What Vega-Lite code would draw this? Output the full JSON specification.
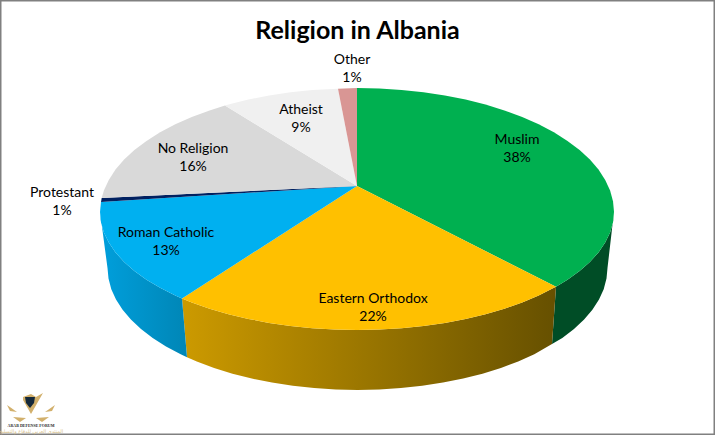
{
"$schema":"https://vega.github.io/schema/vega-lite/v6.json",
"width":715,"height":435,"padding":0,"autosize":{"type":"none"},
"background":"white",
"config":{"view":{"stroke":"#808080","strokeWidth":3},"font":"Lato"},
"title":{"text":"Religion in Albania","font":"Lato","fontSize":25,"fontWeight":"bold","color":"#000000","anchor":"middle","baseline":"middle","dy":56,"offset":0},
"datasets":{
"sides":[
{"part":"Muslim","i":1,"x":613.5,"y":216},{"part":"Muslim","i":2,"x":613,"y":222.3},{"part":"Muslim","i":3,"x":610.1,"y":232.5},{"part":"Muslim","i":4,"x":605.2,"y":242.5},{"part":"Muslim","i":5,"x":598.5,"y":252.4},{"part":"Muslim","i":6,"x":589.9,"y":261.9},{"part":"Muslim","i":7,"x":579.6,"y":271},{"part":"Muslim","i":8,"x":567.5,"y":279.7},{"part":"Muslim","i":9,"x":556,"y":286.8},{"part":"Muslim","i":10,"x":552,"y":344},{"part":"Muslim","i":11,"x":562.3,"y":338},{"part":"Muslim","i":12,"x":574,"y":329},{"part":"Muslim","i":13,"x":584.1,"y":319.6},{"part":"Muslim","i":14,"x":592.4,"y":309.7},{"part":"Muslim","i":15,"x":599,"y":299.6},{"part":"Muslim","i":16,"x":603.7,"y":289.2},{"part":"Muslim","i":17,"x":606.5,"y":278.6},{"part":"Muslim","i":18,"x":607.5,"y":268},
{"part":"Orthodox","i":1,"x":556,"y":286.8},{"part":"Orthodox","i":2,"x":553.9,"y":287.8},{"part":"Orthodox","i":3,"x":538.7,"y":295.4},{"part":"Orthodox","i":4,"x":522.2,"y":302.4},{"part":"Orthodox","i":5,"x":504.4,"y":308.7},{"part":"Orthodox","i":6,"x":485.5,"y":314.2},{"part":"Orthodox","i":7,"x":465.6,"y":318.9},{"part":"Orthodox","i":8,"x":444.9,"y":322.9},{"part":"Orthodox","i":9,"x":423.5,"y":326},{"part":"Orthodox","i":10,"x":401.6,"y":328.2},{"part":"Orthodox","i":11,"x":379.4,"y":329.6},{"part":"Orthodox","i":12,"x":357,"y":330},{"part":"Orthodox","i":13,"x":334.6,"y":329.6},{"part":"Orthodox","i":14,"x":312.4,"y":328.2},{"part":"Orthodox","i":15,"x":290.5,"y":326},{"part":"Orthodox","i":16,"x":269.1,"y":322.9},{"part":"Orthodox","i":17,"x":248.4,"y":318.9},{"part":"Orthodox","i":18,"x":228.5,"y":314.2},{"part":"Orthodox","i":19,"x":209.6,"y":308.7},{"part":"Orthodox","i":20,"x":191.8,"y":302.4},{"part":"Orthodox","i":21,"x":182,"y":298.4},{"part":"Orthodox","i":22,"x":187,"y":357.2},{"part":"Orthodox","i":23,"x":196.8,"y":361.5},{"part":"Orthodox","i":24,"x":214.1,"y":367.9},{"part":"Orthodox","i":25,"x":232.5,"y":373.7},{"part":"Orthodox","i":26,"x":251.8,"y":378.6},{"part":"Orthodox","i":27,"x":272,"y":382.6},{"part":"Orthodox","i":28,"x":292.8,"y":385.8},{"part":"Orthodox","i":29,"x":314.1,"y":388.1},{"part":"Orthodox","i":30,"x":335.7,"y":389.5},{"part":"Orthodox","i":31,"x":357.5,"y":390},{"part":"Orthodox","i":32,"x":379.3,"y":389.5},{"part":"Orthodox","i":33,"x":400.9,"y":388.1},{"part":"Orthodox","i":34,"x":422.2,"y":385.8},{"part":"Orthodox","i":35,"x":443,"y":382.6},{"part":"Orthodox","i":36,"x":463.2,"y":378.6},{"part":"Orthodox","i":37,"x":482.5,"y":373.7},{"part":"Orthodox","i":38,"x":500.9,"y":367.9},{"part":"Orthodox","i":39,"x":518.2,"y":361.5},{"part":"Orthodox","i":40,"x":534.3,"y":354.3},{"part":"Orthodox","i":41,"x":552,"y":344},
{"part":"Catholic","i":1,"x":182,"y":298.4},{"part":"Catholic","i":2,"x":175.3,"y":295.4},{"part":"Catholic","i":3,"x":160.1,"y":287.8},{"part":"Catholic","i":4,"x":146.5,"y":279.7},{"part":"Catholic","i":5,"x":134.4,"y":271},{"part":"Catholic","i":6,"x":124.1,"y":261.9},{"part":"Catholic","i":7,"x":115.5,"y":252.4},{"part":"Catholic","i":8,"x":108.8,"y":242.5},{"part":"Catholic","i":9,"x":103.9,"y":232.5},{"part":"Catholic","i":10,"x":101,"y":222.3},{"part":"Catholic","i":11,"x":100.3,"y":214},{"part":"Catholic","i":12,"x":107.5,"y":268},{"part":"Catholic","i":13,"x":108.5,"y":278.6},{"part":"Catholic","i":14,"x":111.3,"y":289.2},{"part":"Catholic","i":15,"x":116,"y":299.6},{"part":"Catholic","i":16,"x":122.6,"y":309.7},{"part":"Catholic","i":17,"x":130.9,"y":319.6},{"part":"Catholic","i":18,"x":141,"y":329},{"part":"Catholic","i":19,"x":152.7,"y":338},{"part":"Catholic","i":20,"x":166,"y":346.4},{"part":"Catholic","i":21,"x":180.7,"y":354.3},{"part":"Catholic","i":22,"x":187,"y":357.2}
],
"faces":[
{"religion":"Muslim","i":0,"x":357,"y":186},{"religion":"Muslim","i":1,"x":357,"y":88},{"religion":"Muslim","i":2,"x":379.4,"y":88.5},{"religion":"Muslim","i":3,"x":401.6,"y":89.9},{"religion":"Muslim","i":4,"x":423.5,"y":92.2},{"religion":"Muslim","i":5,"x":444.9,"y":95.5},{"religion":"Muslim","i":6,"x":465.6,"y":99.6},{"religion":"Muslim","i":7,"x":485.5,"y":104.6},{"religion":"Muslim","i":8,"x":504.4,"y":110.4},{"religion":"Muslim","i":9,"x":522.2,"y":117},{"religion":"Muslim","i":10,"x":538.7,"y":124.3},{"religion":"Muslim","i":11,"x":553.9,"y":132.3},{"religion":"Muslim","i":12,"x":567.5,"y":140.9},{"religion":"Muslim","i":13,"x":579.6,"y":150},{"religion":"Muslim","i":14,"x":589.9,"y":159.6},{"religion":"Muslim","i":15,"x":598.5,"y":169.6},{"religion":"Muslim","i":16,"x":605.2,"y":179.9},{"religion":"Muslim","i":17,"x":610.1,"y":190.5},{"religion":"Muslim","i":18,"x":613,"y":201.2},{"religion":"Muslim","i":19,"x":614,"y":212},{"religion":"Muslim","i":20,"x":613,"y":222.3},{"religion":"Muslim","i":21,"x":610.1,"y":232.5},{"religion":"Muslim","i":22,"x":605.2,"y":242.5},{"religion":"Muslim","i":23,"x":598.5,"y":252.4},{"religion":"Muslim","i":24,"x":589.9,"y":261.9},{"religion":"Muslim","i":25,"x":579.6,"y":271},{"religion":"Muslim","i":26,"x":567.5,"y":279.7},{"religion":"Muslim","i":27,"x":556,"y":286.8},
{"religion":"Eastern Orthodox","i":0,"x":357,"y":186},{"religion":"Eastern Orthodox","i":1,"x":556,"y":286.8},{"religion":"Eastern Orthodox","i":2,"x":553.9,"y":287.8},{"religion":"Eastern Orthodox","i":3,"x":538.7,"y":295.4},{"religion":"Eastern Orthodox","i":4,"x":522.2,"y":302.4},{"religion":"Eastern Orthodox","i":5,"x":504.4,"y":308.7},{"religion":"Eastern Orthodox","i":6,"x":485.5,"y":314.2},{"religion":"Eastern Orthodox","i":7,"x":465.6,"y":318.9},{"religion":"Eastern Orthodox","i":8,"x":444.9,"y":322.9},{"religion":"Eastern Orthodox","i":9,"x":423.5,"y":326},{"religion":"Eastern Orthodox","i":10,"x":401.6,"y":328.2},{"religion":"Eastern Orthodox","i":11,"x":379.4,"y":329.6},{"religion":"Eastern Orthodox","i":12,"x":357,"y":330},{"religion":"Eastern Orthodox","i":13,"x":334.6,"y":329.6},{"religion":"Eastern Orthodox","i":14,"x":312.4,"y":328.2},{"religion":"Eastern Orthodox","i":15,"x":290.5,"y":326},{"religion":"Eastern Orthodox","i":16,"x":269.1,"y":322.9},{"religion":"Eastern Orthodox","i":17,"x":248.4,"y":318.9},{"religion":"Eastern Orthodox","i":18,"x":228.5,"y":314.2},{"religion":"Eastern Orthodox","i":19,"x":209.6,"y":308.7},{"religion":"Eastern Orthodox","i":20,"x":191.8,"y":302.4},{"religion":"Eastern Orthodox","i":21,"x":182,"y":298.4},
{"religion":"Roman Catholic","i":0,"x":357,"y":186},{"religion":"Roman Catholic","i":1,"x":182,"y":298.4},{"religion":"Roman Catholic","i":2,"x":175.3,"y":295.4},{"religion":"Roman Catholic","i":3,"x":160.1,"y":287.8},{"religion":"Roman Catholic","i":4,"x":146.5,"y":279.7},{"religion":"Roman Catholic","i":5,"x":134.4,"y":271},{"religion":"Roman Catholic","i":6,"x":124.1,"y":261.9},{"religion":"Roman Catholic","i":7,"x":115.5,"y":252.4},{"religion":"Roman Catholic","i":8,"x":108.8,"y":242.5},{"religion":"Roman Catholic","i":9,"x":103.9,"y":232.5},{"religion":"Roman Catholic","i":10,"x":101,"y":222.3},{"religion":"Roman Catholic","i":11,"x":100,"y":212},{"religion":"Roman Catholic","i":12,"x":101,"y":202},
{"religion":"Protestant","i":0,"x":357,"y":186},{"religion":"Protestant","i":1,"x":101,"y":202},{"religion":"Protestant","i":2,"x":101.7,"y":198},
{"religion":"No Religion","i":0,"x":357,"y":186},{"religion":"No Religion","i":1,"x":101.7,"y":198},{"religion":"No Religion","i":2,"x":103.9,"y":190.5},{"religion":"No Religion","i":3,"x":108.8,"y":179.9},{"religion":"No Religion","i":4,"x":115.5,"y":169.6},{"religion":"No Religion","i":5,"x":124.1,"y":159.6},{"religion":"No Religion","i":6,"x":134.4,"y":150},{"religion":"No Religion","i":7,"x":146.5,"y":140.9},{"religion":"No Religion","i":8,"x":160.1,"y":132.3},{"religion":"No Religion","i":9,"x":175.3,"y":124.3},{"religion":"No Religion","i":10,"x":191.8,"y":117},{"religion":"No Religion","i":11,"x":209.6,"y":110.4},{"religion":"No Religion","i":12,"x":225,"y":105.5},
{"religion":"Atheist","i":0,"x":357,"y":186},{"religion":"Atheist","i":1,"x":225,"y":105.5},{"religion":"Atheist","i":2,"x":228.5,"y":104.6},{"religion":"Atheist","i":3,"x":248.4,"y":99.6},{"religion":"Atheist","i":4,"x":269.1,"y":95.5},{"religion":"Atheist","i":5,"x":290.5,"y":92.2},{"religion":"Atheist","i":6,"x":312.4,"y":89.9},{"religion":"Atheist","i":7,"x":338,"y":88.7},
{"religion":"Other","i":0,"x":357,"y":186},{"religion":"Other","i":1,"x":338,"y":88.7},{"religion":"Other","i":2,"x":357,"y":88}
],
"logo":[
{"part":"gold","i":1,"x":23,"y":397},{"part":"gold","i":2,"x":31,"y":394},{"part":"gold","i":3,"x":36,"y":397},{"part":"gold","i":4,"x":43,"y":393},{"part":"gold","i":5,"x":31,"y":414},{"part":"gold","i":6,"x":23,"y":400},
{"part":"wingL1","i":1,"x":7,"y":405},{"part":"wingL1","i":2,"x":17,"y":412},{"part":"wingL1","i":3,"x":10,"y":411},
{"part":"wingR1","i":1,"x":55,"y":405},{"part":"wingR1","i":2,"x":45,"y":412},{"part":"wingR1","i":3,"x":52,"y":411},
{"part":"wingL2","i":1,"x":13,"y":417},{"part":"wingL2","i":2,"x":26,"y":418},{"part":"wingL2","i":3,"x":20,"y":422},
{"part":"wingR2","i":1,"x":49,"y":417},{"part":"wingR2","i":2,"x":36,"y":418},{"part":"wingR2","i":3,"x":42,"y":422}
],
"shield":[
{"i":1,"x":25,"y":397},{"i":2,"x":35,"y":397},{"i":3,"x":34,"y":403},{"i":4,"x":30,"y":408},{"i":5,"x":26,"y":403}
],
"labels":[
{"label":"Muslim","pct":"38%","share":38,"x":517,"y":149},
{"label":"Eastern Orthodox","pct":"22%","share":22,"x":373,"y":307.5},
{"label":"Roman Catholic","pct":"13%","share":13,"x":166,"y":242},
{"label":"Protestant","pct":"1%","share":1,"x":62,"y":202},
{"label":"No Religion","pct":"16%","share":16,"x":193,"y":158},
{"label":"Atheist","pct":"9%","share":9,"x":301,"y":118.5},
{"label":"Other","pct":"1%","share":1,"x":352,"y":69}
],
"marks":[
{"t":"ARAB DEFENSE FORUM","x":31,"y":425.7}
],
"marksAr":[
{"t":"المنتدى العربي للدفاع والتسليح","x":31,"y":431}
]
},
"encoding":{
"x":{"field":"x","type":"quantitative","scale":{"domain":[0,715],"range":[0,715]},"axis":null},
"y":{"field":"y","type":"quantitative","scale":{"domain":[0,435],"range":[0,435]},"axis":null}
},
"layer":[
{"data":{"name":"sides"},"transform":[{"filter":"datum.part==='Muslim'"}],
 "mark":{"type":"line","filled":true,"fill":"#004d26","stroke":null},
 "encoding":{"order":{"field":"i","type":"quantitative"}}},
{"data":{"name":"sides"},"transform":[{"filter":"datum.part==='Orthodox'"}],
 "mark":{"type":"line","filled":true,"stroke":null,"fill":{"gradient":"linear","x1":0,"y1":0,"x2":1,"y2":0,"stops":[{"offset":0,"color":"#cc9a00"},{"offset":1,"color":"#665000"}]}},
 "encoding":{"order":{"field":"i","type":"quantitative"}}},
{"data":{"name":"sides"},"transform":[{"filter":"datum.part==='Catholic'"}],
 "mark":{"type":"line","filled":true,"stroke":null,"fill":{"gradient":"linear","x1":0,"y1":0,"x2":1,"y2":0,"stops":[{"offset":0,"color":"#009fdc"},{"offset":1,"color":"#0086b6"}]}},
 "encoding":{"order":{"field":"i","type":"quantitative"}}},
{"data":{"name":"faces"},
 "mark":{"type":"line","filled":true,"strokeWidth":0},
 "encoding":{"order":{"field":"i","type":"quantitative"},
  "color":{"field":"religion","type":"nominal","legend":null,"scale":{"domain":["Muslim","Eastern Orthodox","Roman Catholic","Protestant","No Religion","Atheist","Other"],"range":["#00b050","#ffc000","#00b0f0","#002060","#d9d9d9","#f0f0f0","#d99694"]}}}},
{"data":{"name":"logo"},
 "mark":{"type":"line","filled":true,"strokeWidth":0},
 "encoding":{"order":{"field":"i","type":"quantitative"},"detail":{"field":"part"},"color":{"value":"#d2b06c"}}},
{"data":{"name":"shield"},
 "mark":{"type":"line","filled":true,"strokeWidth":0},
 "encoding":{"order":{"field":"i","type":"quantitative"},"color":{"value":"#14283a"}}},
{"data":{"name":"labels"},
 "mark":{"type":"text","font":"Lato","fontSize":14,"color":"#000000","dy":-9,"align":"center","baseline":"middle"},
 "encoding":{"text":{"field":"label"}}},
{"data":{"name":"labels"},
 "mark":{"type":"text","font":"Lato","fontSize":14,"color":"#000000","dy":9,"align":"center","baseline":"middle"},
 "encoding":{"text":{"field":"pct"}}},
{"data":{"name":"marks"},
 "mark":{"type":"text","font":"Liberation Serif","fontWeight":"bold","fontSize":4,"color":"#2a2a2a","align":"center","baseline":"middle"},
 "encoding":{"text":{"field":"t"}}},
{"data":{"name":"marksAr"},
 "mark":{"type":"text","font":"DejaVu Sans","fontSize":5,"color":"#d8bf8c","align":"center","baseline":"middle"},
 "encoding":{"text":{"field":"t"}}}
]
}
